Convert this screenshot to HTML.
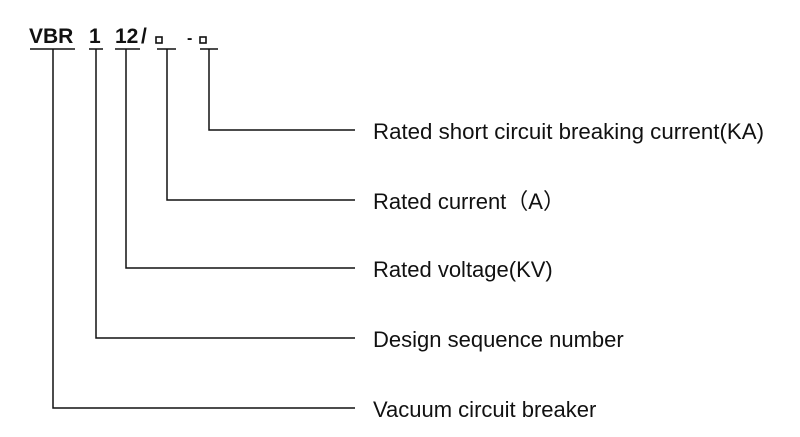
<!DOCTYPE html>
<html><head><style>
body{margin:0;background:#fff;}
svg{display:block;font-family:"Liberation Sans",Arial,sans-serif;}
</style></head><body>
<svg width="800" height="437" viewBox="0 0 800 437">
<g font-weight="bold" font-size="21" fill="#111">
<text x="29" y="43">VBR</text>
<text x="89" y="43">1</text>
<text x="115" y="43">12</text>
<text x="141" y="43">/</text>
<text x="187" y="43" font-size="16">-</text>
</g>
<rect x="156" y="37" width="6" height="6" fill="none" stroke="#111" stroke-width="1.6"/>
<rect x="200" y="37" width="6" height="6" fill="none" stroke="#111" stroke-width="1.6"/>
<g stroke="#111" stroke-width="1.5" fill="none">
<line x1="30" y1="49" x2="75" y2="49"/>
<line x1="89" y1="49" x2="103" y2="49"/>
<line x1="115" y1="49" x2="140" y2="49"/>
<line x1="157" y1="49" x2="176" y2="49"/>
<line x1="200" y1="49" x2="218" y2="49"/>
<polyline points="209,49 209,130 355,130"/>
<polyline points="167,49 167,200 355,200"/>
<polyline points="126,49 126,268 355,268"/>
<polyline points="96,49 96,338 355,338"/>
<polyline points="53,49 53,408 355,408"/>
</g>
<g font-size="22" fill="#111">
<text x="373" y="139" textLength="391" lengthAdjust="spacingAndGlyphs">Rated short circuit breaking current(KA)</text>
<text x="373" y="209">Rated current（A）</text>
<text x="373" y="277">Rated voltage(KV)</text>
<text x="373" y="347">Design sequence number</text>
<text x="373" y="417">Vacuum circuit breaker</text>
</g>
</svg>
</body></html>
